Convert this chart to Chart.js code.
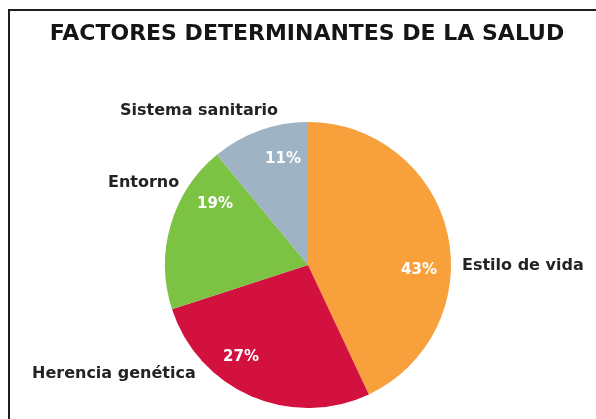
<!DOCTYPE html>
<html>
<head>
<meta charset="utf-8">
<script src="https://cdn.jsdelivr.net/npm/chart.js@4/dist/chart.umd.min.js"></script>
<style>
  html, body { margin: 0; padding: 0; background: #fff; }
  canvas { display: block; }
</style>
</head>
<body>
<canvas id="grafico" width="596" height="419"></canvas>
<script>
// Datos del grafico
const titulo = 'FACTORES DETERMINANTES DE LA SALUD'
const categorias = ['Estilo de vida', 'Herencia genética', 'Entorno', 'Sistema sanitario']
const porcentajes = [43, 27, 19, 11]
const colores = ['#f8a03c', '#d2113f', '#7cc243', '#9eb4c4']

// Donde va cada texto (x, y, alineacion)
const posNombres = [[462, 266, 'left'], [32, 374, 'left'], [108, 183, 'left'], [120, 111, 'left']]
const posPorcentajes = [[419, 270], [241, 357], [215, 204], [283, 159]]

//Dibuja marco, titulo y etiquetas
const textos = {
    id: 'textos',
    beforeDraw(chart) {
        const ctx = chart.ctx
        ctx.save()
        ctx.fillStyle = '#fff'
        ctx.fillRect(0, 0, chart.width, chart.height)
        ctx.fillStyle = '#1e1e1e'
        ctx.fillRect(8, 9, chart.width - 8, 2)
        ctx.fillRect(8, 9, 2, chart.height - 9)
        ctx.restore()
    },
    afterDraw(chart) {
        const ctx = chart.ctx
        ctx.save()
        ctx.textBaseline = 'middle'
        ctx.fillStyle = '#151515'
        ctx.font = 'bold 22px "DejaVu Sans"'
        ctx.textAlign = 'center'
        ctx.fillText(titulo, 307, 34)

        ctx.fillStyle = '#232323'
        ctx.font = 'bold 16px "DejaVu Sans"'
        for (let i = 0; i < categorias.length; i++) {
            ctx.textAlign = posNombres[i][2]
            ctx.fillText(categorias[i], posNombres[i][0], posNombres[i][1])
        }

        ctx.fillStyle = '#fff'
        ctx.font = 'bold 15px "DejaVu Sans"'
        ctx.textAlign = 'center'
        for (let i = 0; i < porcentajes.length; i++) {
            ctx.fillText(porcentajes[i] + '%', posPorcentajes[i][0], posPorcentajes[i][1])
        }
        ctx.restore()
    }
}

var ctx = document.getElementById('grafico')
var chartGraph = new Chart(ctx, {
    type: 'pie',
    data: {
        labels: categorias,
        datasets: [{
            data: porcentajes,
            backgroundColor: colores,
            borderWidth: 0
        }]
    },
    options: {
        responsive: false,
        animation: false,
        layout: { padding: { top: 122, bottom: 11, left: 20, right: 0 } },
        plugins: {
            legend: { display: false },
            title: { display: false },
            tooltip: { enabled: false }
        }
    },
    plugins: [textos]
})
</script>
</body>
</html>
